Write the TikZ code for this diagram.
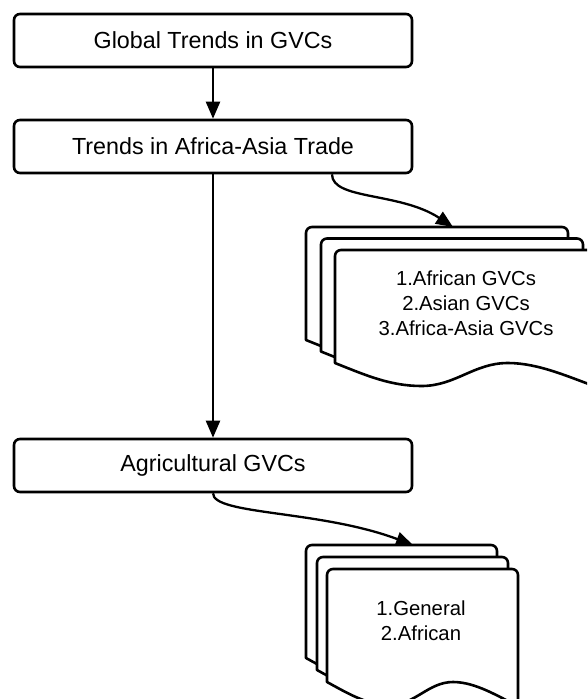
\documentclass[tikz,border=0pt]{standalone}
\usepackage{fontspec}
\setmainfont{Liberation Sans}
\usetikzlibrary{arrows.meta}

% one sheet of a stacked-document symbol: left x, top y, width
\newcommand\docsheet[3]{%
  \draw[sheet] ({#1+#3},{#2+137})
    .. controls ({#1+0.9*#3},{#2+128}) and ({#1+0.78*#3},{#2+113}) .. ({#1+0.66*#3},{#2+113})
    .. controls ({#1+0.53*#3},{#2+113}) and ({#1+0.46*#3},{#2+136}) .. ({#1+0.33*#3},{#2+136})
    .. controls ({#1+0.21*#3},{#2+136}) and ({#1+0.115*#3},{#2+125}) .. ({#1},{#2+113})
    -- ({#1},{#2+40}) [rounded corners=6pt] -- ({#1},{#2}) -- ({#1+#3},{#2}) -- ({#1+#3},{#2+40})
    [sharp corners] -- cycle;}

\begin{document}
\begin{tikzpicture}[x=1pt,y=-1pt,
  stagebox/.style={draw, line width=2.6pt, rounded corners=6pt, fill=white,
    minimum width=398pt, minimum height=53pt, inner sep=0pt,
    font=\fontsize{23.3}{28}\selectfont},
  sheet/.style={draw, line width=2.6pt, fill=white, line join=round},
  doctext/.style={align=center, inner sep=0pt, font=\fontsize{20.3}{25}\selectfont},
  link/.style={line width=2.3pt, -{Triangle[length=17pt,width=14pt]}}]

\fill[white] (0,0) rectangle (587,699);
\useasboundingbox (0,0) rectangle (587,699);
\clip (0,0) rectangle (587,699);

% main boxes
\node[stagebox] (global) at (213,40.5) {Global Trends in GVCs};
\node[stagebox] (trade)  at (213,146.5) {Trends in Africa-Asia Trade};
\node[stagebox] (agri)   at (213,465.5) {Agricultural GVCs};

% first document stack
\docsheet{306}{227}{262}
\docsheet{321}{238.5}{262}
\docsheet{335}{250}{262}
\node[doctext] (gvcs) at (466,303) {1.African GVCs\\2.Asian GVCs\\3.Africa-Asia GVCs};
\coordinate (gvcstop) at (453,227);

% second document stack
\docsheet{306}{545}{191}
\docsheet{317}{557}{191}
\docsheet{327}{569}{191}
\node[doctext] (agrilist) at (421,620.5) {1.General\\2.African};
\coordinate (agritop) at (413,545);

% connectors
\draw[link] (global.south) -- (trade.north);
\draw[link] (trade.south) -- (agri.north);
\coordinate (tradeout) at (trade.south -| 332,0);
\draw[link] (tradeout) .. controls (332,200) and (400,192) .. (gvcstop);
\draw[link] (agri.south) .. controls (213,515) and (320,510) .. (agritop);
\end{tikzpicture}
\end{document}
